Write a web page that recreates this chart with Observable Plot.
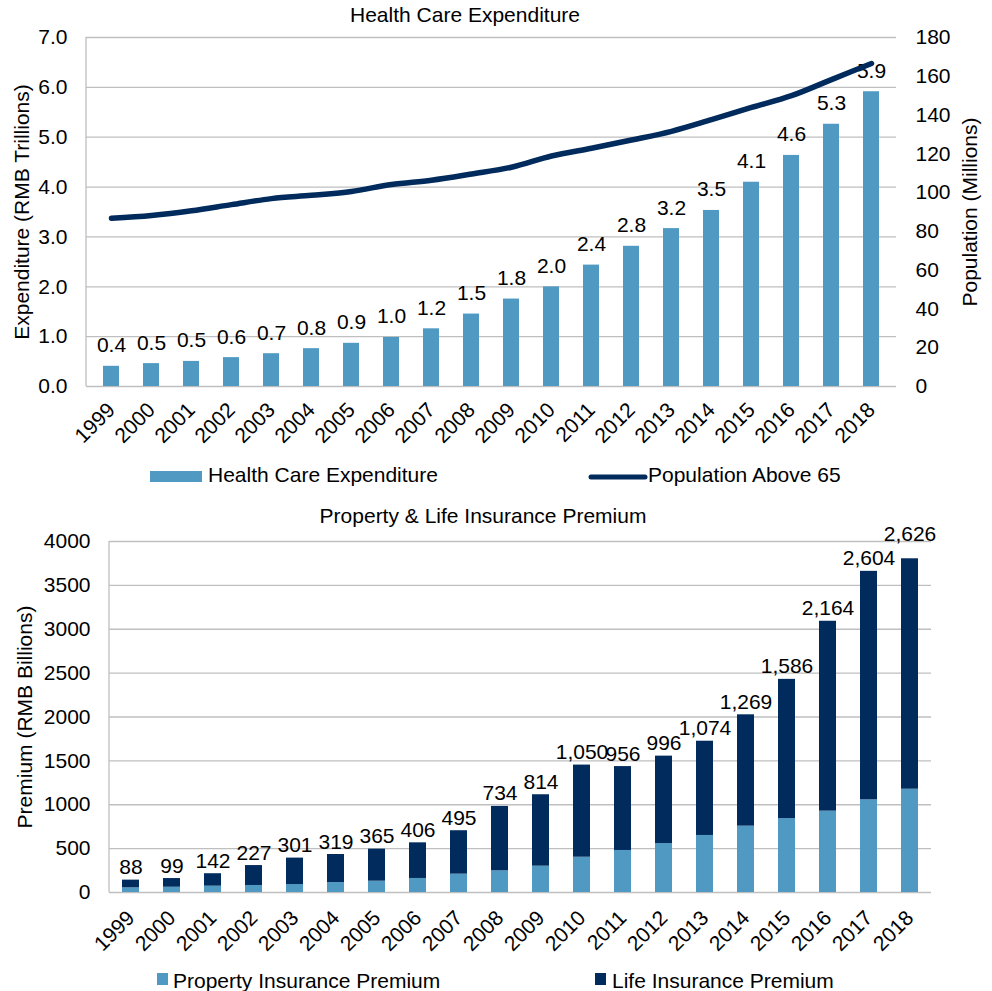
<!DOCTYPE html>
<html><head><meta charset="utf-8">
<script src="https://cdn.jsdelivr.net/npm/d3@7"></script>
<script src="https://cdn.jsdelivr.net/npm/@observablehq/plot@0.6"></script>
<style>
body{margin:0;background:#fff;font-family:"Liberation Sans",Arial,sans-serif;color:#000;}
#wrap{position:relative;width:992px;height:991px;overflow:hidden;}
.abs{position:absolute;white-space:nowrap;font-size:21px;line-height:21px;}
.ctr{transform:translateX(-50%);}
#top,#bot{position:absolute;left:0;}
#top{top:0;} #bot{top:500px;}
</style>
</head><body>
<div id="wrap">
  <div id="top"></div>
  <div id="bot"></div>
  <div class="abs ctr" style="left:465px;top:4px;">Health Care Expenditure</div>
  <div class="abs ctr" style="left:483px;top:505px;">Property &amp; Life Insurance Premium</div>
  <svg class="abs" style="left:150px;top:471px" width="52" height="11"><rect width="52" height="11" fill="#4F99C2"/></svg>
  <div class="abs" style="left:208px;top:464px;">Health Care Expenditure</div>
  <svg class="abs" style="left:588px;top:471px" width="60" height="12"><line x1="3" y1="6" x2="57" y2="6" stroke="#002B5C" stroke-width="5" stroke-linecap="round"/></svg>
  <div class="abs" style="left:648px;top:464px;">Population Above 65</div>
  <svg class="abs" style="left:157px;top:973px" width="11" height="12"><rect width="11" height="12" fill="#4F99C2"/></svg>
  <div class="abs" style="left:173px;top:970px;">Property Insurance Premium</div>
  <svg class="abs" style="left:595px;top:973px" width="11" height="12"><rect width="11" height="12" fill="#002B5C"/></svg>
  <div class="abs" style="left:612px;top:970px;">Life Insurance Premium</div>
</div>
<script>
const years = ["1999","2000","2001","2002","2003","2004","2005","2006","2007","2008","2009","2010","2011","2012","2013","2014","2015","2016","2017","2018"];
const healthExpenditure = [0.405,0.459,0.503,0.579,0.658,0.759,0.866,0.984,1.157,1.453,1.754,1.998,2.435,2.812,3.167,3.531,4.097,4.635,5.260,5.912];
const populationAbove65 = [86.8,88.2,90.6,93.8,96.9,98.6,100.6,104.2,106.4,109.6,113.1,118.9,122.9,127.1,131.6,137.6,143.9,150.0,158.3,166.6];
const propertyPremium = [53,60,72,80,91,114,129,160,209,247,300,402,479,558,650,756,843,927,1056,1177];
const lifePremium = [88,99,142,227,301,319,365,406,495,734,814,1050,956,996,1074,1269,1586,2164,2604,2626];
const expTicks = [0,1,2,3,4,5,6,7];
const popTicks = [0,20,40,60,80,100,120,140,160,180];
const premTicks = [0,500,1000,1500,2000,2500,3000,3500,4000];

const BLUE = "#4F99C2", NAVY = "#002B5C", GRID = "#BFBFBF";
const FONT = "'Liberation Sans', Arial, sans-serif";
const popToExp = 7 / 180;

function leftBorder(plot) {
  const xr = plot.scale("x").range, yr = plot.scale("y").range;
  d3.select(plot).append("line")
    .attr("x1", xr[0]).attr("x2", xr[0]).attr("y1", yr[0]).attr("y2", yr[1])
    .attr("stroke", GRID).attr("stroke-width", 1.3);
}

const hc = years.map((y, i) => ({year: y, exp: healthExpenditure[i], pop: populationAbove65[i]}));

const topPlot = Plot.plot({
  width: 992, height: 450,
  marginTop: 37, marginBottom: 64, marginLeft: 86, marginRight: 96,
  style: {fontFamily: FONT, fontSize: "21px", color: "#000", background: "transparent", overflow: "visible"},
  x: {domain: years, paddingInner: 0.59, paddingOuter: 0.295, label: null},
  y: {domain: [0, 7], label: null},
  marks: [
    Plot.gridY(expTicks, {stroke: GRID, strokeOpacity: 1, strokeWidth: 1.3}),
    Plot.barY(hc, {x: "year", y: "exp", fill: BLUE}),
    Plot.text(hc, {x: "year", y: "exp", text: d => d3.format(".1f")(d.exp), lineAnchor: "bottom", dy: -14, fill: "#000"}),
    Plot.line(hc, {x: "year", y: d => d.pop * popToExp, stroke: NAVY, strokeWidth: 5.5, curve: "monotone-x", strokeLinecap: "round"}),
    Plot.axisY(expTicks, {anchor: "left", tickSize: 0, tickPadding: 19, tickFormat: d3.format(".1f"), label: "Expenditure (RMB Trillions)", labelAnchor: "center", labelOffset: 72, labelArrow: "none"}),
    Plot.axisY(popTicks.map(v => v * popToExp), {anchor: "right", tickSize: 0, tickPadding: 19, tickFormat: v => Math.round(v / popToExp), label: "Population (Millions)", labelAnchor: "center", labelOffset: 80, labelArrow: "none"}),
    Plot.axisX({tickSize: 0, tickRotate: -45, tickPadding: 20, label: null})
  ]
});
leftBorder(topPlot);
document.getElementById("top").append(topPlot);

const ins = years.flatMap((y, i) => [
  {year: y, type: "Property Insurance Premium", v: propertyPremium[i]},
  {year: y, type: "Life Insurance Premium", v: lifePremium[i]}
]);
const totals = years.map((y, i) => ({year: y, total: propertyPremium[i] + lifePremium[i], life: lifePremium[i]}));
const lastYear = years[years.length - 1];

const botPlot = Plot.plot({
  width: 992, height: 460,
  marginTop: 41, marginBottom: 68, marginLeft: 109, marginRight: 61,
  style: {fontFamily: FONT, fontSize: "21px", color: "#000", background: "transparent", overflow: "visible"},
  x: {domain: years, paddingInner: 0.59, paddingOuter: 0.295, label: null},
  y: {domain: [0, 4000], label: null},
  color: {domain: ["Property Insurance Premium", "Life Insurance Premium"], range: [BLUE, NAVY]},
  marks: [
    Plot.gridY(premTicks, {stroke: GRID, strokeOpacity: 1, strokeWidth: 1.3}),
    Plot.barY(ins, {x: "year", y: "v", fill: "type"}),
    Plot.text(totals.filter(d => d.year !== lastYear), {x: "year", y: "total", text: d => d3.format(",")(d.life), lineAnchor: "bottom", dy: -6, fill: "#000"}),
    Plot.text(totals.filter(d => d.year === lastYear), {x: "year", y: "total", text: d => d3.format(",")(d.life), lineAnchor: "bottom", dy: -18, fill: "#000"}),
    Plot.axisY(premTicks, {anchor: "left", tickSize: 0, tickPadding: 19, tickFormat: d => String(d), label: "Premium (RMB Billions)", labelAnchor: "center", labelOffset: 92, labelArrow: "none"}),
    Plot.axisX({tickSize: 0, tickRotate: -45, tickPadding: 22, label: null})
  ]
});
leftBorder(botPlot);
document.getElementById("bot").append(botPlot);
</script>
</body></html>
